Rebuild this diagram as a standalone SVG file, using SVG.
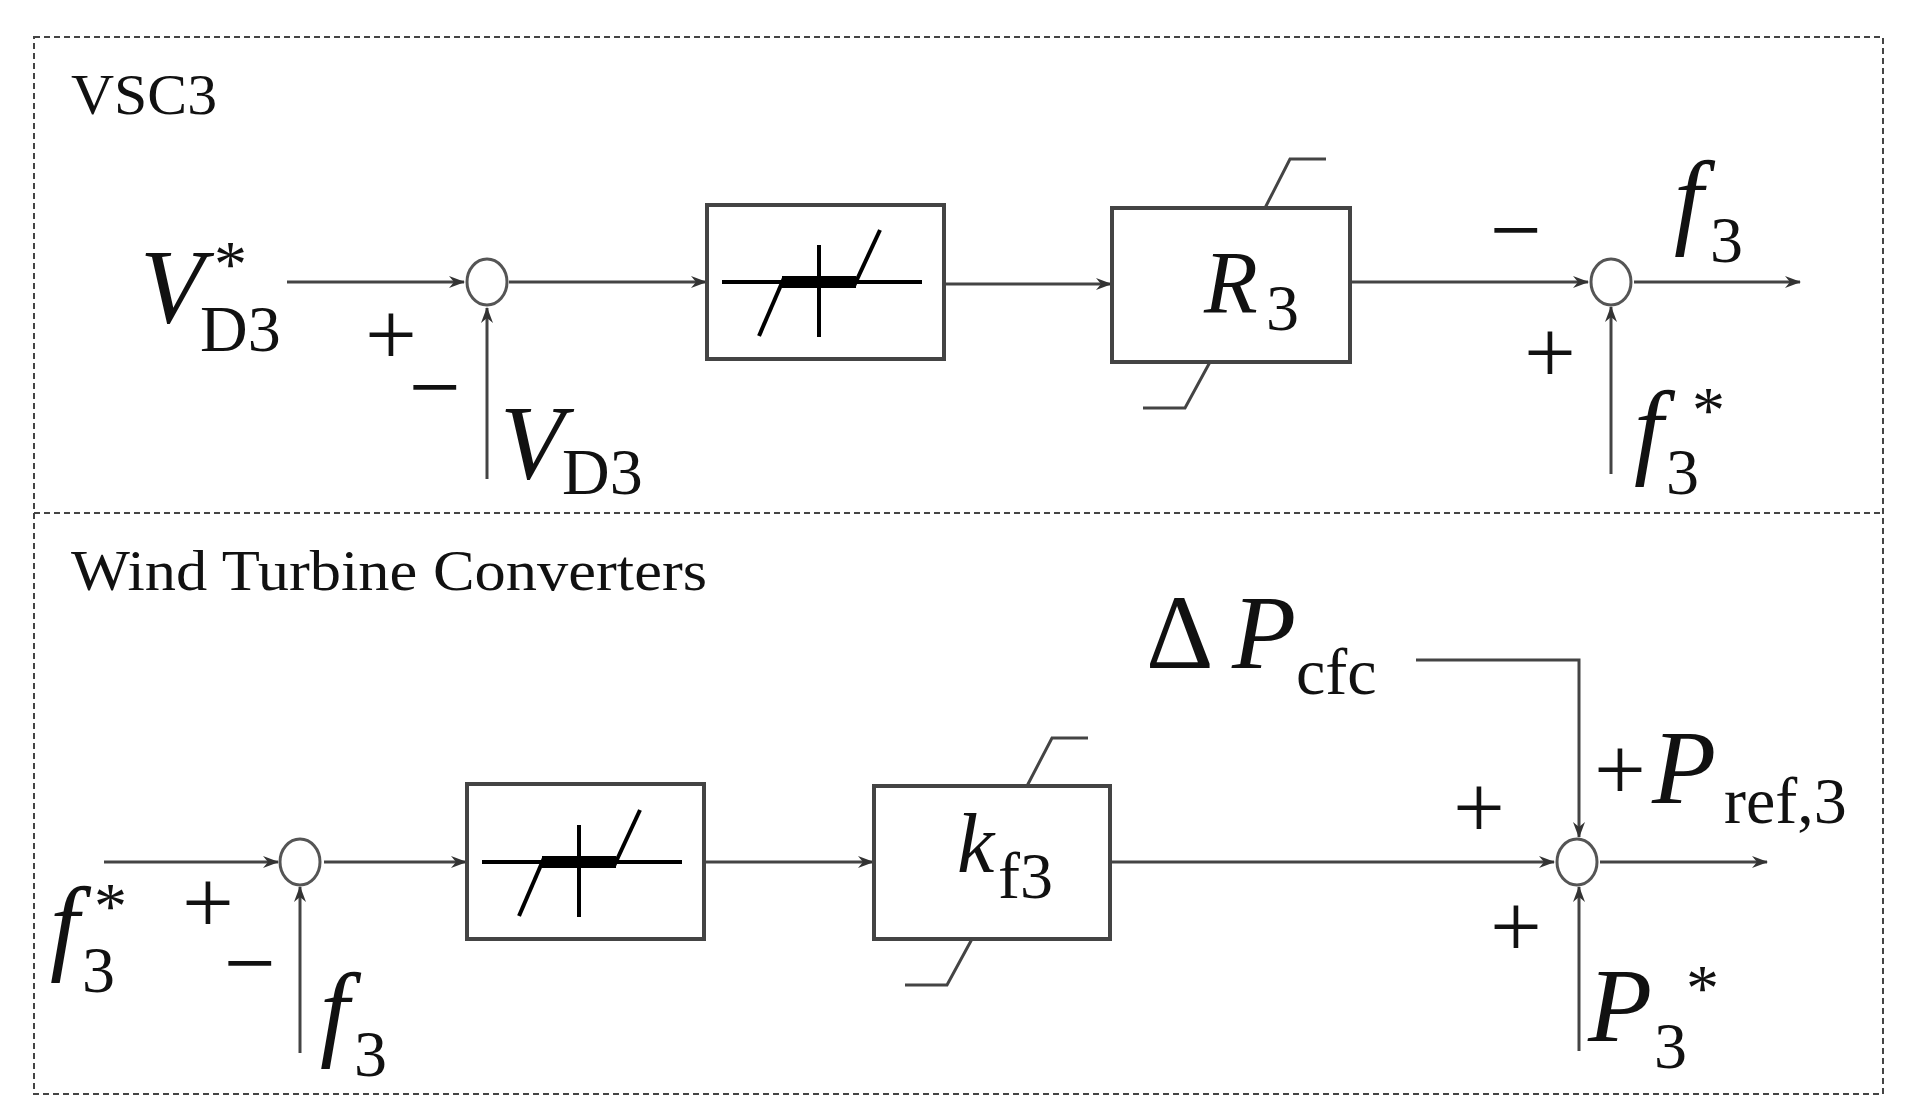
<svg xmlns="http://www.w3.org/2000/svg" width="1907" height="1118" viewBox="0 0 1907 1118">
<defs>
<marker id="ar" markerWidth="16" markerHeight="12" refX="15" refY="6" orient="auto" markerUnits="userSpaceOnUse"><path d="M0,0 L16,6 L0,12 L5,6 Z" fill="#333"/></marker>
</defs>
<style>
.frame{fill:none;stroke:#444;stroke-width:2;stroke-dasharray:6,4}
.box{fill:#fff;stroke:#444;stroke-width:4}
.sum{fill:#fff;stroke:#555;stroke-width:3}
.c{fill:none;stroke:#444;stroke-width:3}
.lim{fill:none;stroke:#444;stroke-width:3}
.t{font-family:"Liberation Serif",serif;fill:#111}
.i{font-style:italic}
.big{font-size:105px}
.sub{font-size:66px}
.pm{font-size:92px;text-anchor:middle}
.dz{stroke:#000;stroke-width:4;fill:none}
</style>
<rect width="1907" height="1118" fill="#fff"/>
<rect class="frame" x="34" y="37" width="1849" height="1057"/>
<line class="frame" x1="34" y1="513" x2="1883" y2="513"/>
<text class="t" x="71" y="114" font-size="56" textLength="146" lengthAdjust="spacingAndGlyphs">VSC3</text>
<text class="t" x="71" y="590" font-size="56" textLength="636" lengthAdjust="spacingAndGlyphs">Wind Turbine Converters</text>

<g id="connectors">
<line class="c" x1="287" y1="282" x2="464" y2="282" marker-end="url(#ar)"/>
<line class="c" x1="487" y1="479" x2="487" y2="308" marker-end="url(#ar)"/>
<line class="c" x1="509" y1="282" x2="706" y2="282" marker-end="url(#ar)"/>
<line class="c" x1="944" y1="284" x2="1111" y2="284" marker-end="url(#ar)"/>
<line class="c" x1="1350" y1="282" x2="1588" y2="282" marker-end="url(#ar)" stroke-width="4"/>
<line class="c" x1="1611" y1="474" x2="1611" y2="307" marker-end="url(#ar)"/>
<line class="c" x1="1634" y1="282" x2="1800" y2="282" marker-end="url(#ar)"/>
<line class="c" x1="104" y1="862" x2="278" y2="862" marker-end="url(#ar)"/>
<line class="c" x1="300" y1="1053" x2="300" y2="887" marker-end="url(#ar)"/>
<line class="c" x1="324" y1="862" x2="466" y2="862" marker-end="url(#ar)"/>
<line class="c" x1="704" y1="862" x2="873" y2="862" marker-end="url(#ar)"/>
<line class="c" x1="1110" y1="862" x2="1554" y2="862" marker-end="url(#ar)"/>
<line class="c" x1="1600" y1="862" x2="1767" y2="862" marker-end="url(#ar)"/>
<polyline class="c" points="1416,660 1579,660 1579,837" marker-end="url(#ar)"/>
<line class="c" x1="1579" y1="1051" x2="1579" y2="887" marker-end="url(#ar)"/>
</g>

<g id="sum1"><ellipse class="sum" cx="487" cy="282" rx="20" ry="23"/></g>
<g id="sum2"><ellipse class="sum" cx="1611" cy="282" rx="20" ry="23"/></g>
<g id="sum3"><ellipse class="sum" cx="300" cy="862" rx="20" ry="23"/></g>
<g id="sum4"><ellipse class="sum" cx="1577" cy="862" rx="20" ry="23"/></g>

<g id="deadzone1">
<rect class="box" x="707" y="205" width="237" height="154"/>
<line class="dz" x1="722" y1="282" x2="922" y2="282"/>
<line class="dz" x1="819" y1="245" x2="819" y2="337" stroke-width="3"/>
<rect x="782" y="276" width="74" height="12" fill="#000"/>
<line class="dz" x1="759" y1="336" x2="784" y2="278" stroke-width="7"/>
<line class="dz" x1="854" y1="286" x2="880" y2="230" stroke-width="7"/>
</g>
<g id="deadzone2">
<rect class="box" x="467" y="784" width="237" height="155"/>
<line class="dz" x1="482" y1="862" x2="682" y2="862"/>
<line class="dz" x1="579" y1="825" x2="579" y2="917" stroke-width="3"/>
<rect x="542" y="856" width="74" height="12" fill="#000"/>
<line class="dz" x1="519" y1="916" x2="544" y2="858" stroke-width="7"/>
<line class="dz" x1="614" y1="866" x2="640" y2="810" stroke-width="7"/>
</g>

<g id="R3">
<rect class="box" x="1112" y="208" width="238" height="154"/>
<polyline class="lim" points="1265,208 1290,159 1326,159"/>
<polyline class="lim" points="1210,362 1185,408 1143,408"/>
<text class="t i" x="1204" y="312" font-size="88">R</text>
<text class="t sub" x="1266" y="330">3</text>
</g>
<g id="kf3">
<rect class="box" x="874" y="786" width="236" height="153"/>
<polyline class="lim" points="1027,786 1052,738 1088,738"/>
<polyline class="lim" points="972,939 947,985 905,985"/>
<text class="t i" x="957" y="872" font-size="84">k</text>
<text class="t sub" x="998" y="898">f3</text>
</g>

<g id="labels">
<text class="t i big" x="140" y="322">V</text>
<text class="t sub" x="214" y="286">*</text>
<text class="t sub" x="200" y="351">D3</text>
<text class="t pm" x="391" y="365">+</text>
<text class="t pm" x="435" y="418">−</text>
<text class="t i big" x="500" y="478">V</text>
<text class="t sub" x="562" y="494">D3</text>
<text class="t pm" x="1516" y="261">−</text>
<text class="t i big" x="1674" y="234">f</text>
<text class="t sub" x="1710" y="262">3</text>
<text class="t pm" x="1550" y="383">+</text>
<text class="t i big" x="1634" y="464">f</text>
<text class="t sub" x="1692" y="432">*</text>
<text class="t sub" x="1666" y="494">3</text>
<text class="t i big" x="50" y="960">f</text>
<text class="t sub" x="94" y="928">*</text>
<text class="t sub" x="82" y="992">3</text>
<text class="t pm" x="208" y="933">+</text>
<text class="t pm" x="250" y="994">−</text>
<text class="t i big" x="320" y="1046">f</text>
<text class="t sub" x="354" y="1076">3</text>
<text class="t big" x="1146" y="668">Δ</text>
<text class="t i big" x="1232" y="668">P</text>
<text class="t sub" x="1296" y="694">cfc</text>
<text class="t pm" x="1620" y="800">+</text>
<text class="t i big" x="1652" y="803">P</text>
<text class="t sub" x="1724" y="823">ref,3</text>
<text class="t pm" x="1479" y="838">+</text>
<text class="t pm" x="1516" y="957">+</text>
<text class="t i big" x="1588" y="1041">P</text>
<text class="t sub" x="1686" y="1010">*</text>
<text class="t sub" x="1654" y="1068">3</text>
</g>
</svg>
